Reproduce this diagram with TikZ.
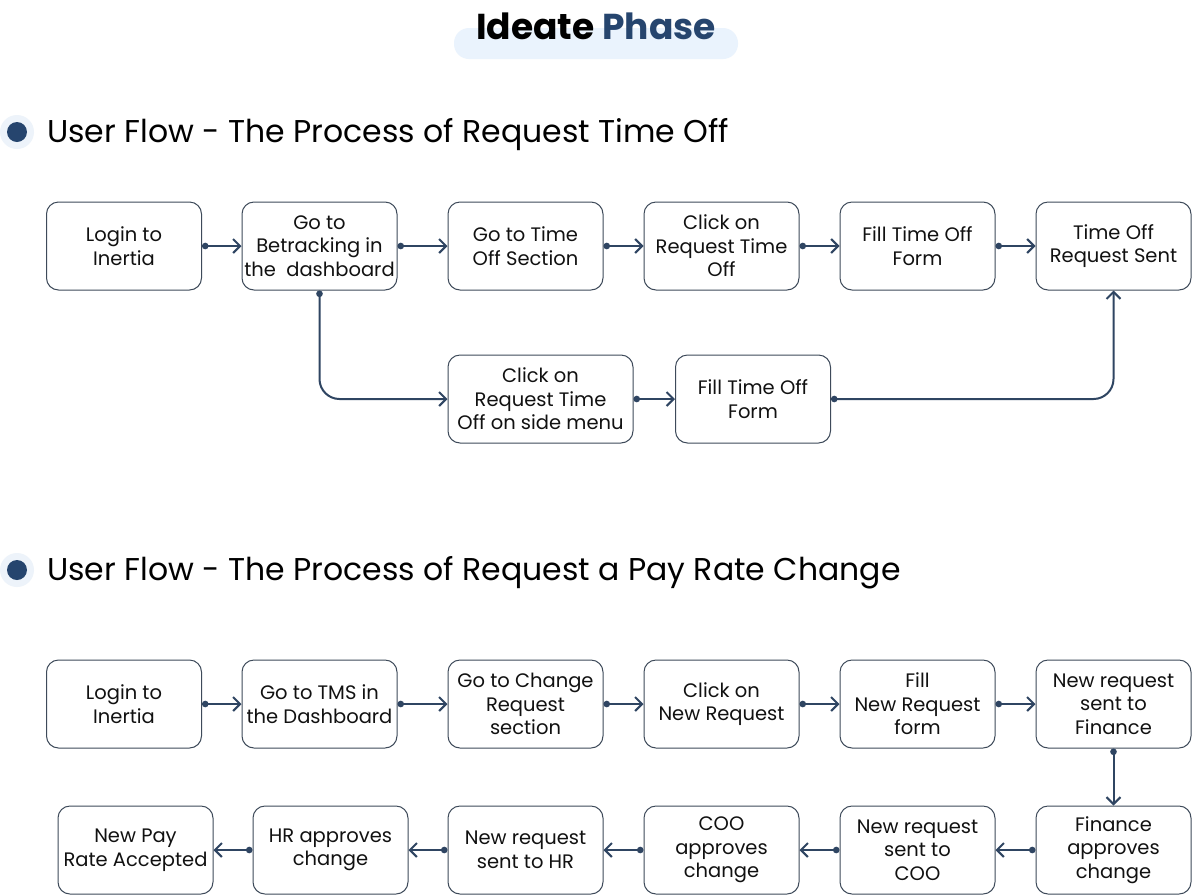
\documentclass[tikz,border=0pt]{standalone}
\usepackage{fontspec}
\setmainfont{Poppins}
\usetikzlibrary{arrows.meta}
\definecolor{linec}{HTML}{2F4562}
\definecolor{boxc}{HTML}{3E4A5A}
\definecolor{phasec}{HTML}{26456E}
\definecolor{pillc}{HTML}{EAF3FD}
\definecolor{haloc}{HTML}{EDF3FA}
\definecolor{txtc}{HTML}{111111}
\tikzset{
  box/.style={draw=boxc, line width=1pt, rounded corners=12pt, minimum width=155pt, minimum height=88pt,
    align=center, text=txtc, font=\fontsize{19.5}{23.5}\selectfont, inner sep=0pt},
  conn/.style={draw=linec, line width=2pt, {Circle[length=6.5pt]}-{Straight Barb[length=7pt,width=14pt,line width=2pt]}},
  sectitle/.style={anchor=base west, text=black, font=\fontsize{31.5}{38}\selectfont, inner sep=0pt},
}
\begin{document}
\begin{tikzpicture}[x=1pt,y=-1pt]
\useasboundingbox[fill=white] (0,0) rectangle (1192,895);
% title
\fill[pillc, rounded corners=15pt] (454,28) rectangle (738,59);
\node[inner sep=0pt, anchor=base, font=\fontsize{36}{44}\selectfont\bfseries] (title) at (596,39) {Ideate \textcolor{phasec}{Phase}};
% section 1
\fill[haloc] (17,132) circle (17);
\fill[phasec] (17,132) circle (10);
\node[sectitle] (s1) at (47,142) {User Flow - The Process of Request Time Off};
\node[box] (a1) at (124,246) {Login to\\Inertia};
\node[box] (a2) at (319.5,246) {Go to\\Betracking in\\the\ \ dashboard};
\node[box] (a3) at (525.5,246) {Go to Time\\Off Section};
\node[box] (a4) at (721.5,246) {Click on\\Request Time\\Off};
\node[box] (a5) at (917.5,246) {Fill Time Off\\Form};
\node[box] (a6) at (1113.5,246) {Time Off\\Request Sent};
\node[box, minimum width=185pt] (b1) at (540.5,399) {Click on\\Request Time\\Off on side menu};
\node[box] (b2) at (753,399) {Fill Time Off\\Form};
\draw[conn] (a1) -- (a2);
\draw[conn] (a2) -- (a3);
\draw[conn] (a3) -- (a4);
\draw[conn] (a4) -- (a5);
\draw[conn] (a5) -- (a6);
\draw[conn, rounded corners=20pt] (a2.south) |- (b1.west);
\draw[conn] (b1) -- (b2);
\draw[conn, rounded corners=20pt] (b2.east) -| (a6.south);
% section 2
\fill[haloc] (17,570) circle (17);
\fill[phasec] (17,570) circle (10);
\node[sectitle] (s2) at (47,580) {User Flow - The Process of Request a Pay Rate Change};
\node[box] (c1) at (124,704) {Login to\\Inertia};
\node[box] (c2) at (319.5,704) {Go to TMS in\\the Dashboard};
\node[box] (c3) at (525.5,704) {Go to Change\\Request\\section};
\node[box] (c4) at (721.5,704) {Click on\\New Request};
\node[box] (c5) at (917.5,704) {Fill\\New Request\\form};
\node[box] (c6) at (1113.5,704) {New request\\sent to\\Finance};
\node[box] (d6) at (1113.5,850) {Finance\\approves\\change};
\node[box] (d5) at (917.5,850) {New request\\sent to\\COO};
\node[box] (d4) at (721.5,850) {COO\\approves\\change};
\node[box] (d3) at (525.5,850) {New request\\sent to HR};
\node[box] (d2) at (330.5,850) {HR approves\\change};
\node[box] (d1) at (135.5,850) {New Pay\\Rate Accepted};
\draw[conn] (c1) -- (c2);
\draw[conn] (c2) -- (c3);
\draw[conn] (c3) -- (c4);
\draw[conn] (c4) -- (c5);
\draw[conn] (c5) -- (c6);
\draw[conn] (c6) -- (d6);
\draw[conn] (d6) -- (d5);
\draw[conn] (d5) -- (d4);
\draw[conn] (d4) -- (d3);
\draw[conn] (d3) -- (d2);
\draw[conn] (d2) -- (d1);
\end{tikzpicture}
\end{document}
